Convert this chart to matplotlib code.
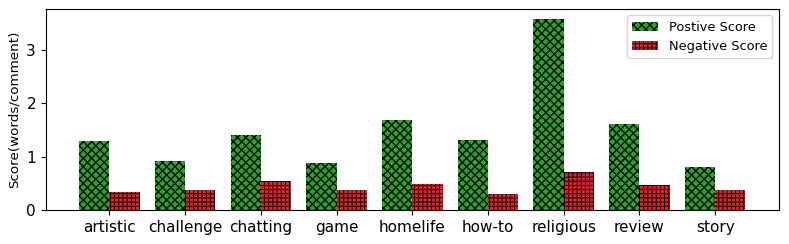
import matplotlib

matplotlib.use("Agg")
import matplotlib.pyplot
import numpy

# Categories and scores.
categories = [
    "artistic",
    "challenge",
    "chatting",
    "game",
    "homelife",
    "how-to",
    "religious",
    "review",
    "story",
]
positive_scores = [1.30, 0.92, 1.40, 0.89, 1.69, 1.31, 3.59, 1.61, 0.81]
negative_scores = [0.33, 0.37, 0.54, 0.37, 0.49, 0.31, 0.71, 0.47, 0.37]

matplotlib.pyplot.rcParams["hatch.color"] = "black"

# Create the figure.
fig, ax = matplotlib.pyplot.subplots(figsize=(7.89, 2.44), dpi=100)
fig.subplots_adjust(left=0.058, right=0.987, top=0.963, bottom=0.139)

positions = numpy.arange(len(categories))
width = 0.4

# Positive scores to the left of the tick, negative scores to the right.
positive_bars = ax.bar(
    positions - width / 2,
    positive_scores,
    width,
    color="#2ca02c",
    hatch="xxxx",
    edgecolor="black",
    linewidth=0,
    label="Postive Score",
)
negative_bars = ax.bar(
    positions + width / 2,
    negative_scores,
    width,
    color="#d62728",
    hatch="++++",
    edgecolor="black",
    linewidth=0,
    label="Negative Score",
)

# Thinner grid lines on the red bars, as in the reference.
for bar in positive_bars:
    bar.set_hatch_linewidth(0.9)
for bar in negative_bars:
    bar.set_hatch_linewidth(0.6)

ax.set_xticks(positions)
ax.set_xticklabels(categories, fontsize=11)
ax.tick_params(axis="y", labelsize=11)
ax.set_ylabel("Score(words/comment)", fontsize=9.7)

legend = ax.legend(loc="upper right", fontsize=9.3)
for handle, lw in zip(legend.legend_handles, [0.9, 0.6]):
    handle.set_hatch_linewidth(lw)

fig.savefig("out.png", dpi=100)
